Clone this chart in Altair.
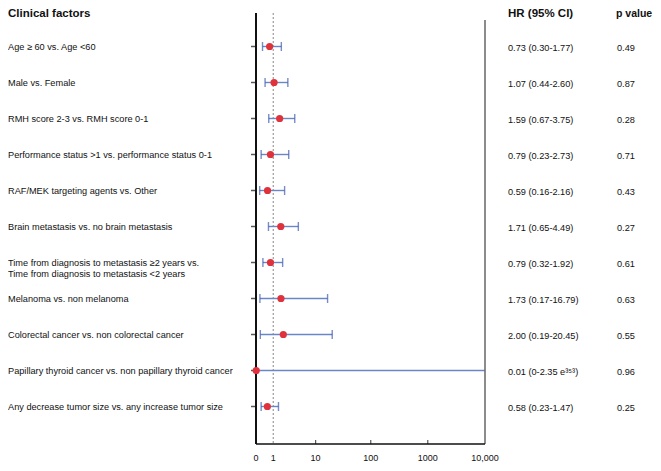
import altair as alt
import pandas as pd

# ---------------- data ----------------
labels = [
    "Age \u2265 60 vs. Age <60",
    "Male vs. Female",
    "RMH score 2-3 vs. RMH score 0-1",
    "Performance status >1 vs. performance status 0-1",
    "RAF/MEK targeting agents vs. Other",
    "Brain metastasis vs. no brain metastasis",
    "Time from diagnosis to metastasis \u22652 years vs.\nTime from diagnosis to metastasis <2 years",
    "Melanoma vs. non melanoma",
    "Colorectal cancer vs. non colorectal cancer",
    "Papillary thyroid cancer vs. non papillary thyroid cancer",
    "Any decrease tumor size vs. any increase tumor size",
]
hr = [0.73, 1.07, 1.59, 0.79, 0.59, 1.71, 0.79, 1.73, 2.00, 0.01, 0.58]
ci_low = [0.30, 0.44, 0.67, 0.23, 0.16, 0.65, 0.32, 0.17, 0.19, 0.0, 0.23]
# papillary upper bound is 2.35e353 (beyond the axis) -> clamped at the axis end
ci_high = [1.77, 2.60, 3.75, 2.73, 2.16, 4.49, 1.92, 16.79, 20.45, 1e300, 1.47]
hr_text = [
    "0.73 (0.30-1.77)", "1.07 (0.44-2.60)", "1.59 (0.67-3.75)", "0.79 (0.23-2.73)",
    "0.59 (0.16-2.16)", "1.71 (0.65-4.49)", "0.79 (0.32-1.92)", "1.73 (0.17-16.79)",
    "2.00 (0.19-20.45)", "0.01 (0-2.35 e\u00b3\u2075\u00b3)", "0.58 (0.23-1.47)",
]
p_values = ["0.49", "0.87", "0.28", "0.71", "0.43", "0.27", "0.61", "0.63", "0.55", "0.96", "0.25"]
x_ticks = [0, 1, 10, 100, 1000, 10000]
x_tick_labels = ["0", "1", "10", "100", "1000", "10,000"]
x_inner_ticks = [10, 100, 1000]
column_titles = ["Clinical factors", "HR (95% CI)", "p value"]

rows = list(range(1, len(labels) + 1))
first_lines = [l.split("\n")[0] for l in labels]
second = [(r, l.split("\n")[1]) for r, l in zip(rows, labels) if "\n" in l]

df = pd.DataFrame({
    "row": rows, "label": first_lines, "hr": hr, "lo": ci_low, "hi": ci_high,
    "hr_text": hr_text, "p": p_values, "zero": [0] * len(rows),
})
df2 = pd.DataFrame({"row": [r + 0.31 for r, _ in second], "label": [t for _, t in second]})

Y_TOP, Y_TOP_R, Y_BOT = 0.07, 0.264, 12.04
XMAX = 10000

FONT = "Liberation Sans"
BLUE = "#6b86c6"
BLUE_CAP = "#3f5db0"
RED = "#e0323c"
INK = "#111111"

xs = alt.Scale(type="symlog", constant=1, domain=[0, XMAX], range=[248, 477],
               clamp=True, nice=False, zero=False)
ys = alt.Scale(domain=[1, 11], range=[38.5, 398.5], nice=False, zero=False)


def X(f):
    return alt.X(f, type="quantitative", scale=xs, axis=None)


def Y(f):
    return alt.Y(f, type="quantitative", scale=ys, axis=None)


base = alt.Chart(df)

ref_line = alt.Chart(pd.DataFrame({"x": [1], "y": [Y_TOP], "y2": [Y_BOT]})).mark_rule(
    color="#777777", strokeDash=[2, 2], strokeWidth=0.9
).encode(x=X("x"), y=Y("y"), y2="y2")
left_axis = alt.Chart(pd.DataFrame({"x": [0], "y": [Y_TOP], "y2": [Y_BOT]})).mark_rule(
    color=INK, strokeWidth=2
).encode(x=X("x"), y=Y("y"), y2="y2")
right_axis = alt.Chart(pd.DataFrame({"x": [XMAX], "y": [Y_TOP_R], "y2": [Y_BOT]})).mark_rule(
    color="#666666", strokeWidth=1.5
).encode(x=X("x"), y=Y("y"), y2="y2")
bottom_axis = alt.Chart(pd.DataFrame({"x": [0], "x2": [XMAX], "y": [Y_BOT]})).mark_rule(
    color=INK, strokeWidth=1.5
).encode(x=X("x"), x2="x2", y=Y("y"))

row_ticks = base.mark_tick(orient="horizontal", size=5, thickness=1.5, color=INK,
                           xOffset=-2.5).encode(x=X("zero"), y=Y("row"))

bt = pd.DataFrame({"x": x_inner_ticks, "y": [Y_BOT] * len(x_inner_ticks)})
bottom_ticks = alt.Chart(bt).mark_tick(orient="vertical", size=4, thickness=1.2,
                                       color=INK, yOffset=-2).encode(x=X("x"), y=Y("y"))

tl = pd.DataFrame({"x": x_ticks, "t": x_tick_labels})
tick_labels = alt.Chart(tl).mark_text(font=FONT, fontSize=9, baseline="bottom",
                                      align="center", color=INK).encode(
    x=X("x"), y=alt.value(455), text="t:N")

bars = base.mark_rule(color=BLUE, strokeWidth=1.4).encode(x=X("lo"), x2="hi", y=Y("row"))
caps_lo = base.mark_tick(orient="vertical", size=9, thickness=1.4, color=BLUE_CAP).encode(
    x=X("lo"), y=Y("row"))
caps_hi = base.transform_filter(alt.datum.hi <= XMAX).mark_tick(
    orient="vertical", size=9, thickness=1.4, color=BLUE_CAP).encode(x=X("hi"), y=Y("row"))
points = base.mark_circle(size=52, color=RED, opacity=1).encode(x=X("hr"), y=Y("row"))

lab = base.mark_text(font=FONT, fontSize=9.2, align="left", baseline="middle",
                     color=INK).encode(x=alt.value(0), y=Y("row"), text="label:N")
lab2 = alt.Chart(df2).mark_text(font=FONT, fontSize=9.2, align="left", baseline="middle",
                                color=INK).encode(x=alt.value(0), y=Y("row"), text="label:N")
hrt = base.mark_text(font=FONT, fontSize=9.2, align="left", baseline="middle", dy=1.5,
                     color=INK).encode(x=alt.value(500), y=Y("row"), text="hr_text:N")
pt = base.mark_text(font=FONT, fontSize=9.2, align="left", baseline="middle", dy=1.5,
                    color=INK).encode(x=alt.value(609), y=Y("row"), text="p:N")

t1 = alt.Chart(pd.DataFrame({"t": [column_titles[0]]})).mark_text(
    font=FONT, fontSize=11.5, fontWeight="bold", align="left", baseline="top", color=INK
).encode(x=alt.value(0), y=alt.value(0), text="t:N")
t2 = alt.Chart(pd.DataFrame({"t": [column_titles[1]]})).mark_text(
    font=FONT, fontSize=11.5, fontWeight="bold", align="left", baseline="top", color=INK
).encode(x=alt.value(500), y=alt.value(0), text="t:N")
t3 = alt.Chart(pd.DataFrame({"t": [column_titles[2]]})).mark_text(
    font=FONT, fontSize=10.5, fontWeight="bold", align="left", baseline="top", color=INK
).encode(x=alt.value(608), y=alt.value(0.5), text="t:N")

chart = alt.layer(
    ref_line, bars, caps_lo, caps_hi, left_axis, right_axis, bottom_axis, row_ticks,
    bottom_ticks, tick_labels, points, lab, lab2, hrt, pt, t1, t2, t3,
).properties(
    width=645, height=455, autosize=alt.AutoSizeParams(type="none"), padding=0,
).configure_view(stroke=None)

chart.save("out.html", embed_options={"renderer": "svg", "actions": False})
